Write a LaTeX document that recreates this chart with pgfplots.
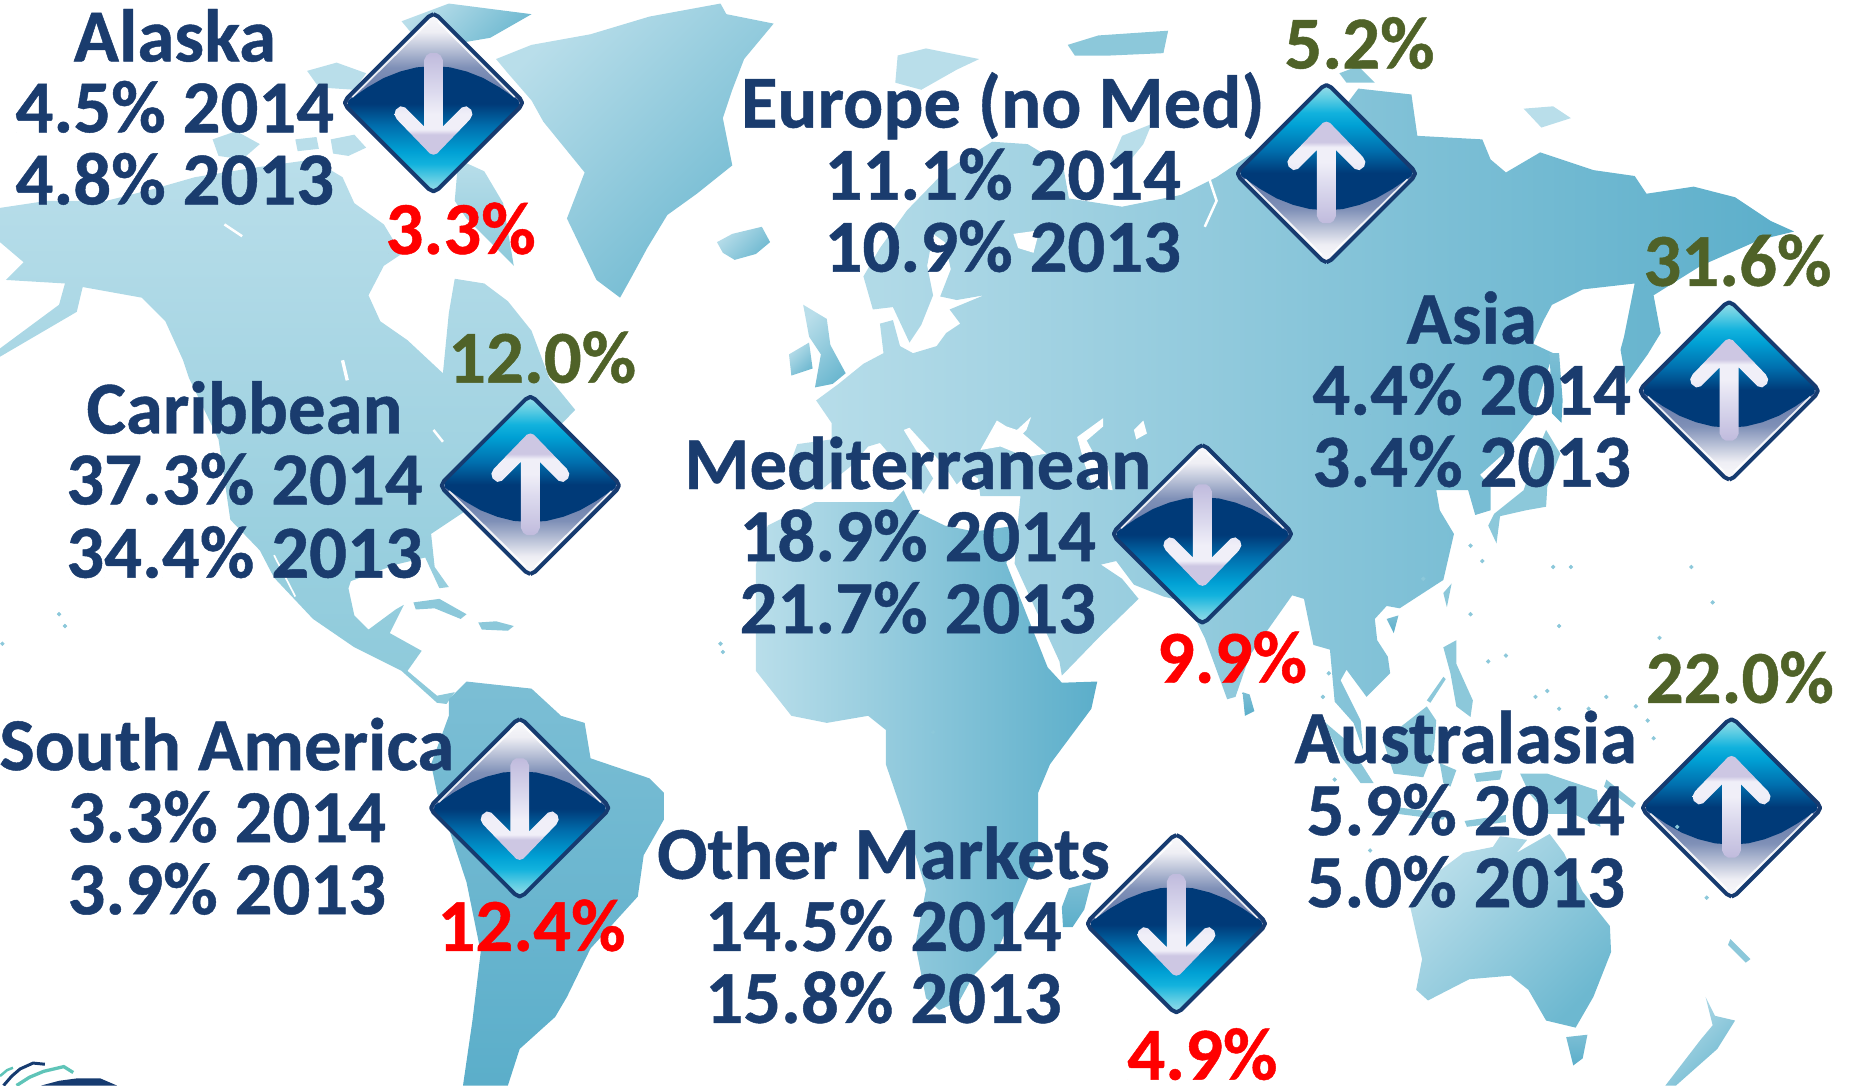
\documentclass[border=0pt]{standalone}
\usepackage{fontspec}
\setmainfont{Carlito}[BoldFeatures={FakeBold=0.6}]
\usepackage{pgfplots}
\usepackage{pgfplotstable}
\pgfplotsset{compat=1.18}

\definecolor{navytxt}{HTML}{1A3C6E}
\definecolor{olivetxt}{HTML}{4F6228}
\definecolor{edgeblue}{HTML}{163B70}
\definecolor{logoteal}{HTML}{5FC4B8}
\definecolor{landA}{HTML}{B9DEEA}
\definecolor{landB}{HTML}{A9D6E4}
\definecolor{landC}{HTML}{5BAECA}
\definecolor{landD}{HTML}{8CC9DA}
\definecolor{landE}{HTML}{6DB8D0}
\definecolor{isle}{HTML}{8CC8DA}
\definecolor{s1}{HTML}{FAFAFC}
\definecolor{s2}{HTML}{EEEEF4}
\definecolor{s3}{HTML}{7F90B7}
\definecolor{s4}{HTML}{5F74A5}
\definecolor{b1}{HTML}{003A78}
\definecolor{b2}{HTML}{006FAE}
\definecolor{b3}{HTML}{00A0D4}
\definecolor{b4}{HTML}{12B2DD}
\definecolor{b5}{HTML}{5FCDE3}
\definecolor{b6}{HTML}{9ADDE9}
\definecolor{a1}{HTML}{C0BBDD}
\definecolor{a2}{HTML}{DCDAEE}
\definecolor{a3}{HTML}{F0EFF8}
\definecolor{a4}{HTML}{CDC7E3}

% the central 50bp of a shading cover the path
\pgfdeclareverticalshading{capdown}{100bp}{color(0bp)=(s4); color(25bp)=(s4); color(45bp)=(s3); color(65bp)=(s2); color(75bp)=(s1); color(100bp)=(s1)}
\pgfdeclareverticalshading{capup}{100bp}{color(0bp)=(s1); color(25bp)=(s1); color(35bp)=(s2); color(55bp)=(s3); color(75bp)=(s4); color(100bp)=(s4)}
\pgfdeclareverticalshading{bodydown}{100bp}{color(0bp)=(b6); color(25bp)=(b6); color(30bp)=(b5); color(36bp)=(b4); color(41bp)=(b3); color(51bp)=(b2); color(60bp)=(b1); color(100bp)=(b1)}
\pgfdeclareverticalshading{bodyup}{100bp}{color(0bp)=(b1); color(40bp)=(b1); color(49bp)=(b2); color(59bp)=(b3); color(64bp)=(b4); color(70bp)=(b5); color(75bp)=(b6); color(100bp)=(b6)}
\pgfdeclareverticalshading{arrowdown}{100bp}{color(0bp)=(a4); color(35bp)=(a4); color(37.5bp)=(a3); color(45bp)=(a3); color(56bp)=(a2); color(75bp)=(a1); color(100bp)=(a1)}
\pgfdeclareverticalshading{arrowup}{100bp}{color(0bp)=(a1); color(25bp)=(a1); color(44bp)=(a2); color(55bp)=(a3); color(62.5bp)=(a3); color(65bp)=(a4); color(100bp)=(a4)}

\pgfplotstableread{
x y
0 -75
4 -73
73 -4
75 0
73 4
4 73
0 75
-4 73
-73 4
-75 0
-73 -4
-4 -73
0 -75
}\taboutline
\pgfplotstableread{
x y
0 -75
4 -73
73 -4
73 0
-73 0
-73 -4
-4 -73
}\tabcap
\pgfplotstableread{
x y
-72 -2
-56 -13
-42 -21
-28 -26.5
-14 -30
0 -31
14 -30
28 -26.5
42 -21
56 -13
72 -2
73 4
4 73
0 75
-4 73
-73 4
}\tabbody
\pgfplotstableread{
x y
-8 -36
-6 -40
-3 -42
3 -42
6 -40
8 -36
8 20
24 4
28 3
32 6
33 10
31 14
3 43
0 44
-3 43
-31 14
-33 10
-32 6
-28 3
-24 4
-8 20
}\tabarrow
\pgfplotstableread{
x y
-69 -5
-4 -69
}\tabglossL
\pgfplotstableread{
x y
69 -5
4 -69
}\tabglossR

% #1 x, #2 y, #3 sign of y (1 arrow down, -1 arrow up), #4 down or up
\newcommand{\signbox}[4]{%
  \addplot[shading=cap#4, draw=none] table[x expr=\thisrow{x}+#1, y expr=#2+#3*\thisrow{y}] \tabcap;
  \addplot[shading=body#4, draw=none] table[x expr=\thisrow{x}+#1, y expr=#2+#3*\thisrow{y}] \tabbody;
  \addplot[white, line width=1.5pt, opacity=.85] table[x expr=\thisrow{x}+#1, y expr=#2+#3*\thisrow{y}] \tabglossL;
  \addplot[white, line width=1.5pt, opacity=.85] table[x expr=\thisrow{x}+#1, y expr=#2+#3*\thisrow{y}] \tabglossR;
  \addplot[shading=arrow#4, draw=none] table[x expr=\thisrow{x}+#1, y expr=#2+#3*\thisrow{y}] \tabarrow;
  \addplot[edgeblue, line width=2.4pt, line join=round] table[x expr=\thisrow{x}+#1, y expr=#2+#3*\thisrow{y}] \taboutline;
}
\newcommand{\lab}{\fontsize{45}{45}\selectfont\bfseries}
% #1 x, #2 baseline y, #3 text
\newcommand{\txtline}[3]{\node[anchor=base, font=\lab, text=navytxt, inner sep=0pt] at (axis cs:#1,#2) {#3};}
\newcommand{\changelab}[4]{\node[anchor=base, font=\lab, text=#4, inner sep=0pt] at (axis cs:#1,#2) {#3};}

\tikzset{
  pale/.style={top color=landA, bottom color=landD, draw=none},
  diag/.style={top color=landA, bottom color=landE, shading angle=45, draw=none},
  eura/.style={top color=landA, middle color=landB, bottom color=landC, shading angle=90, draw=none},
  deep/.style={top color=landC!80!white, bottom color=landC, draw=none},
  isl/.style={fill=isle, draw=none},
  palei/.style={fill=landA, draw=none},
  sea/.style={fill=white, draw=none},
}

\begin{document}
\begin{tikzpicture}
\useasboundingbox (0,0) rectangle (39.2cm,22.986cm);
\begin{axis}[
  at={(0,0)}, anchor=south west,
  scale only axis, width=39.2cm, height=22.986cm,
  xmin=0, xmax=1568, ymin=0, ymax=919.4, y dir=reverse,
  hide axis,
]
% North America
\addplot[pale] coordinates {
(0,176)(40,170)(90,170)(130,160)(165,150)(215,142)(265,135)(290,150)(300,172)(325,190)(340,215)(325,225)
(312,250)(322,272)(345,288)(375,316)(380,265)(385,236)(410,240)(430,255)(450,280)(465,320)(487,347)
(450,385)(392,434)(365,452)(368,480)(380,497)(372,498)(360,472)(335,478)(297,492)(295,498)(300,521)
(312,533)(335,516)(342,512)(330,536)(357,551)(345,568)(370,589)(385,586)(378,596)(370,595)(340,568)
(300,548)(265,524)(232,489)(220,466)(195,440)(185,372)(160,320)(155,305)(140,272)(120,252)(70,243)
(65,264)(0,302)(0,295)(50,258)(55,240)(5,237)(20,222)(0,205)};
% Arctic islands
\addplot[pale] coordinates {(388,135)(410,145)(426,172)(435,225)(420,210)(395,185)(385,170)};
\addplot[palei] coordinates {(180,118)(200,111)(220,122)(205,135)(185,132)};
\addplot[palei] coordinates {(260,60)(285,53)(310,62)(300,76)(270,74)};
\addplot[palei] coordinates {(280,118)(300,114)(310,125)(295,132)(282,130)};
\addplot[palei] coordinates {(250,118)(268,116)(270,126)(252,128)};
\addplot[palei] coordinates {(323,60)(350,50)(352,90)(330,92)(320,75)};
\addplot[diag] coordinates {(340,18)(380,3)(450,12)(415,32)(380,38)(350,30)};
\addplot[diag] coordinates {(420,50)(450,38)(500,29)(550,14)(610,3)(615,12)(655,20)(645,32)(630,50)(620,76)(612,100)(620,140)
(590,164)(565,182)(548,210)(535,234)(525,252)(505,237)(480,185)(495,146)(460,103)(450,85)(430,62)};
\addplot[diag] coordinates {(607,205)(620,198)(645,192)(652,205)(640,215)(622,220)(612,214)};
% Europe and Asia
\addplot[eura] coordinates {
(691,339)(710,325)(731,308)(748,299)(745,274)(756,271)(762,293)(773,299)(793,293)(801,282)(813,274)(804,262)
(833,250)(810,254)(796,251)(805,228)(800,205)(790,198)(785,225)(790,250)(780,275)(770,290)(756,260)(739,262)(731,234)
(745,210)(768,178)(800,145)(840,120)(870,122)(900,140)(905,168)(950,175)(1000,165)(1030,150)(1060,130)(1100,115)
(1135,95)(1150,75)(1195,80)(1200,115)(1255,118)(1262,135)(1275,146)(1304,129)(1349,144)(1384,149)(1394,164)(1434,158)
(1469,167)(1499,187)(1519,196)
(1490,203)(1440,225)(1400,250)(1406,282)(1395,300)(1377,325)(1372,296)(1375,285)(1384,240)(1340,245)(1314,258)
(1307,271)(1298,291)(1315,299)(1305,330)(1298,353)(1273,384)(1253,402)(1262,412)(1262,432)(1249,436)(1243,415)
(1216,415)(1219,432)(1231,452)(1222,491)(1185,515)(1174,513)(1164,524)(1166,542)(1175,556)(1177,570)(1157,590)
(1140,567)(1135,576)(1152,610)(1154,635)(1146,612)(1130,594)(1126,550)(1112,546)(1104,507)(1094,504)(1058,555)
(1046,590)(1039,592)(1020,540)(1005,510)(985,505)(960,495)(945,475)(932,478)(950,490)(964,507)(930,540)(899,572)
(897,560)(859,477)(862,440)(864,420)(830,420)(828,405)(820,400)(810,410)(800,395)(770,362)(765,364)(790,405)(782,418)
(745,375)(735,378)(720,395)(695,415)(672,412)(668,395)(675,376)(704,372)(704,358)};
% inland water
\addplot[sea] coordinates {(830,381)(844,356)(852,361)(861,364)(873,353)(869,364)(866,367)(886,384)(869,387)(847,378)};
\addplot[sea] coordinates {(912,370)(934,354)(934,361)(920,373)(926,384)(937,392)(942,415)(925,412)(918,392)};
\addplot[sea] coordinates {(960,364)(968,356)(971,367)(962,372)};
\addplot[sea] coordinates {(858,198)(880,195)(875,214)(862,210)};
\addplot[white, line width=1.5pt] coordinates {(1024,152)(1030,170)(1020,192)};
\addplot[white, line width=1pt] coordinates {(232,470)(250,505)};
\addplot[white, line width=1.5pt] coordinates {(367,364)(375,374)};
\addplot[white, line width=1.5pt] coordinates {(190,190)(205,200)};
\addplot[white, line width=2pt] coordinates {(290,305)(294,322)};
% British Isles and northern islands
\addplot[diag] coordinates {(680,258)(700,270)(703,292)(716,316)(705,325)(690,328)(695,300)(685,285)};
\addplot[diag] coordinates {(668,300)(685,290)(688,312)(670,318)};
\addplot[palei] coordinates {(760,47)(784,41)(829,50)(810,59)(780,76)(758,70)};
\addplot[isl] coordinates {(904,38)(930,30)(989,26)(985,45)(940,47)(910,47)};
\addplot[isl] coordinates {(1134,62)(1150,56)(1164,70)(1140,70)};
\addplot[palei] coordinates {(940,138)(950,115)(975,105)(968,122)(955,138)};
\addplot[palei] coordinates {(1290,92)(1315,90)(1330,100)(1305,108)};
% Africa and Madagascar
\addplot[eura] coordinates {(640,478)(650,445)(690,425)(756,425)(765,415)(773,432)(800,445)(825,450)(860,445)(852,477)(887,565)(899,578)
(929,577)(924,600)(889,647)(879,671)(879,724)(844,806)(824,826)(812,848)(795,855)(784,845)(775,800)(784,753)(765,691)(750,647)(750,618)(735,606)
(700,612)(670,606)(640,568)};
\addplot[deep] coordinates {(899,768)(905,752)(924,747)(918,770)(908,785)(900,785)};
% South America
\addplot[deep] coordinates {(380,592)(395,577)(450,583)(475,606)(495,612)(500,642)(550,659)(562,671)(562,694)(545,724)(540,759)(500,803)
(480,844)(470,861)(440,888)(430,919)(392,919)(400,864)(407,806)(395,747)(370,671)(365,647)(380,606)};
% Caribbean islands
\addplot[isl] coordinates {(350,510)(372,507)(395,520)(390,524)(368,515)(352,516)};
\addplot[isl] coordinates {(405,527)(420,526)(435,530)(430,534)(408,533)};
% Sakhalin, Japan, Taiwan, Sri Lanka, Hainan
\addplot[deep] coordinates {(1312,299)(1320,299)(1323,339)(1322,358)(1314,350)};
\addplot[isl] coordinates {(1309,364)(1321,384)(1310,412)(1309,429)(1292,432)(1270,437)(1267,460)(1260,445)(1265,435)(1290,415)(1300,385)};
\addplot[isl] coordinates {(1222,502)(1229,494)(1225,514)};
\addplot[deep] coordinates {(1052,586)(1058,588)(1062,602)(1054,606)};
\addplot[deep] coordinates {(1174,524)(1184,521)(1180,536)};
% Indonesia, Philippines, New Guinea
\addplot[isl] coordinates {(1120,610)(1140,627)(1163,663)(1152,663)(1135,640)};
\addplot[isl] coordinates {(1208,598)(1216,610)(1214,635)(1205,658)(1180,655)(1171,627)};
\addplot[isl] coordinates {(1180,683)(1225,689)(1222,694)(1183,689)};
\addplot[isl] coordinates {(1219,646)(1233,652)(1228,666)(1222,663)};
\addplot[isl] coordinates {(1222,548)(1233,542)(1233,562)(1247,593)(1245,607)(1233,598)(1228,570)};
\addplot[isl] coordinates {(1208,593)(1222,573)(1224,575)(1211,595)};
\addplot[isl] coordinates {(1287,655)(1310,655)(1352,669)(1355,700)(1332,689)(1310,689)(1295,672)};
\addplot[isl] coordinates {(1240,695)(1275,690)(1275,696)(1242,700)};
\addplot[isl] coordinates {(1248,655)(1272,652)(1270,660)(1250,662)};
\addplot[isl] coordinates {(1360,660)(1385,680)(1382,684)(1358,666)};
% Australia, Tasmania, New Zealand
\addplot[diag] coordinates {(1194,768)(1215,740)(1239,722)(1264,717)(1270,708)(1293,711)(1284,722)(1312,706)(1324,722)(1340,755)(1363,784)(1364,806)(1349,844)(1334,870)
(1309,864)(1294,838)(1279,826)(1244,829)(1209,847)(1199,838)(1204,812)};
\addplot[deep] coordinates {(1326,878)(1344,876)(1340,896)(1332,902)};
\addplot[diag] coordinates {(1444,844)(1452,860)(1469,864)(1454,888)(1419,919)(1410,919)(1440,880)(1450,868)};
\addplot[isl] coordinates {(1465,795)(1482,812)(1478,815)(1463,800)};
% small islands
\addplot[only marks, color=isle, mark=*, mark size=1.1pt] coordinates {
(50,520)(55,530)(2,545)(1300,590)(1310,585)(1320,600)(1345,600)(1360,590)(1385,598)(1395,610)(1400,625)
(1260,560)(1275,555)(1245,520)(1330,480)(1320,530)(1432,480)(1450,510)(1405,540)(1420,700)(1445,760)
(780,615)(790,620)(1125,570)(1120,590)(1130,660)(1205,490)(1245,462)(1255,475)(1315,480)(1160,720)(610,545)(612,552)};
% logo in the corner
\addplot[logoteal, line width=1.5pt] coordinates {(0,911)(6,906)(11,904)};
\addplot[edgeblue, line width=1.8pt] coordinates {(3,919)(10,911)(17,905)(28,900)(38,901)};
\addplot[logoteal, line width=2pt] coordinates {(14,919)(25,912)(37,907)(54,903)(62,908)};
\addplot[fill=edgeblue, draw=none] coordinates {(35,919)(50,915)(65,913)(85,913)(99,919)};

% the signs
\signbox{367}{87}{1}{down}
\signbox{449}{411}{-1}{up}
\signbox{440}{684}{1}{down}
\signbox{996}{782}{1}{down}
\signbox{1018}{452}{1}{down}
\signbox{1123}{147}{-1}{up}
\signbox{1464}{331}{-1}{up}
\signbox{1466}{684}{-1}{up}

% labels
\txtline{148}{52}{Alaska}
\txtline{148}{112}{4.5\% 2014}
\txtline{148}{173}{4.8\% 2013}
\txtline{849}{108}{Europe (no Med)}
\txtline{849}{169}{11.1\% 2014}
\txtline{849}{230}{10.9\% 2013}
\txtline{207}{367}{Caribbean}
\txtline{207}{427}{37.3\% 2014}
\txtline{207}{489}{34.4\% 2013}
\txtline{777}{414}{Mediterranean}
\txtline{777}{475}{18.9\% 2014}
\txtline{777}{536}{21.7\% 2013}
\txtline{1246}{291}{Asia}
\txtline{1246}{351}{4.4\% 2014}
\txtline{1246}{412}{3.4\% 2013}
\txtline{192}{652}{South America}
\txtline{192}{713}{3.3\% 2014}
\txtline{192}{774}{3.9\% 2013}
\txtline{748}{744}{Other Markets}
\txtline{748}{805}{14.5\% 2014}
\txtline{748}{866}{15.8\% 2013}
\txtline{1241}{646}{Australasia}
\txtline{1241}{707}{5.9\% 2014}
\txtline{1241}{768}{5.0\% 2013}

\changelab{390}{215}{3.3\%}{red}
\changelab{459}{324}{12.0\%}{olivetxt}
\changelab{1151}{58}{5.2\%}{olivetxt}
\changelab{1471}{242}{31.6\%}{olivetxt}
\changelab{1043}{578}{9.9\%}{red}
\changelab{450}{805}{12.4\%}{red}
\changelab{1473}{595}{22.0\%}{olivetxt}
\changelab{1018}{914}{4.9\%}{red}
\end{axis}
\end{tikzpicture}
\end{document}
